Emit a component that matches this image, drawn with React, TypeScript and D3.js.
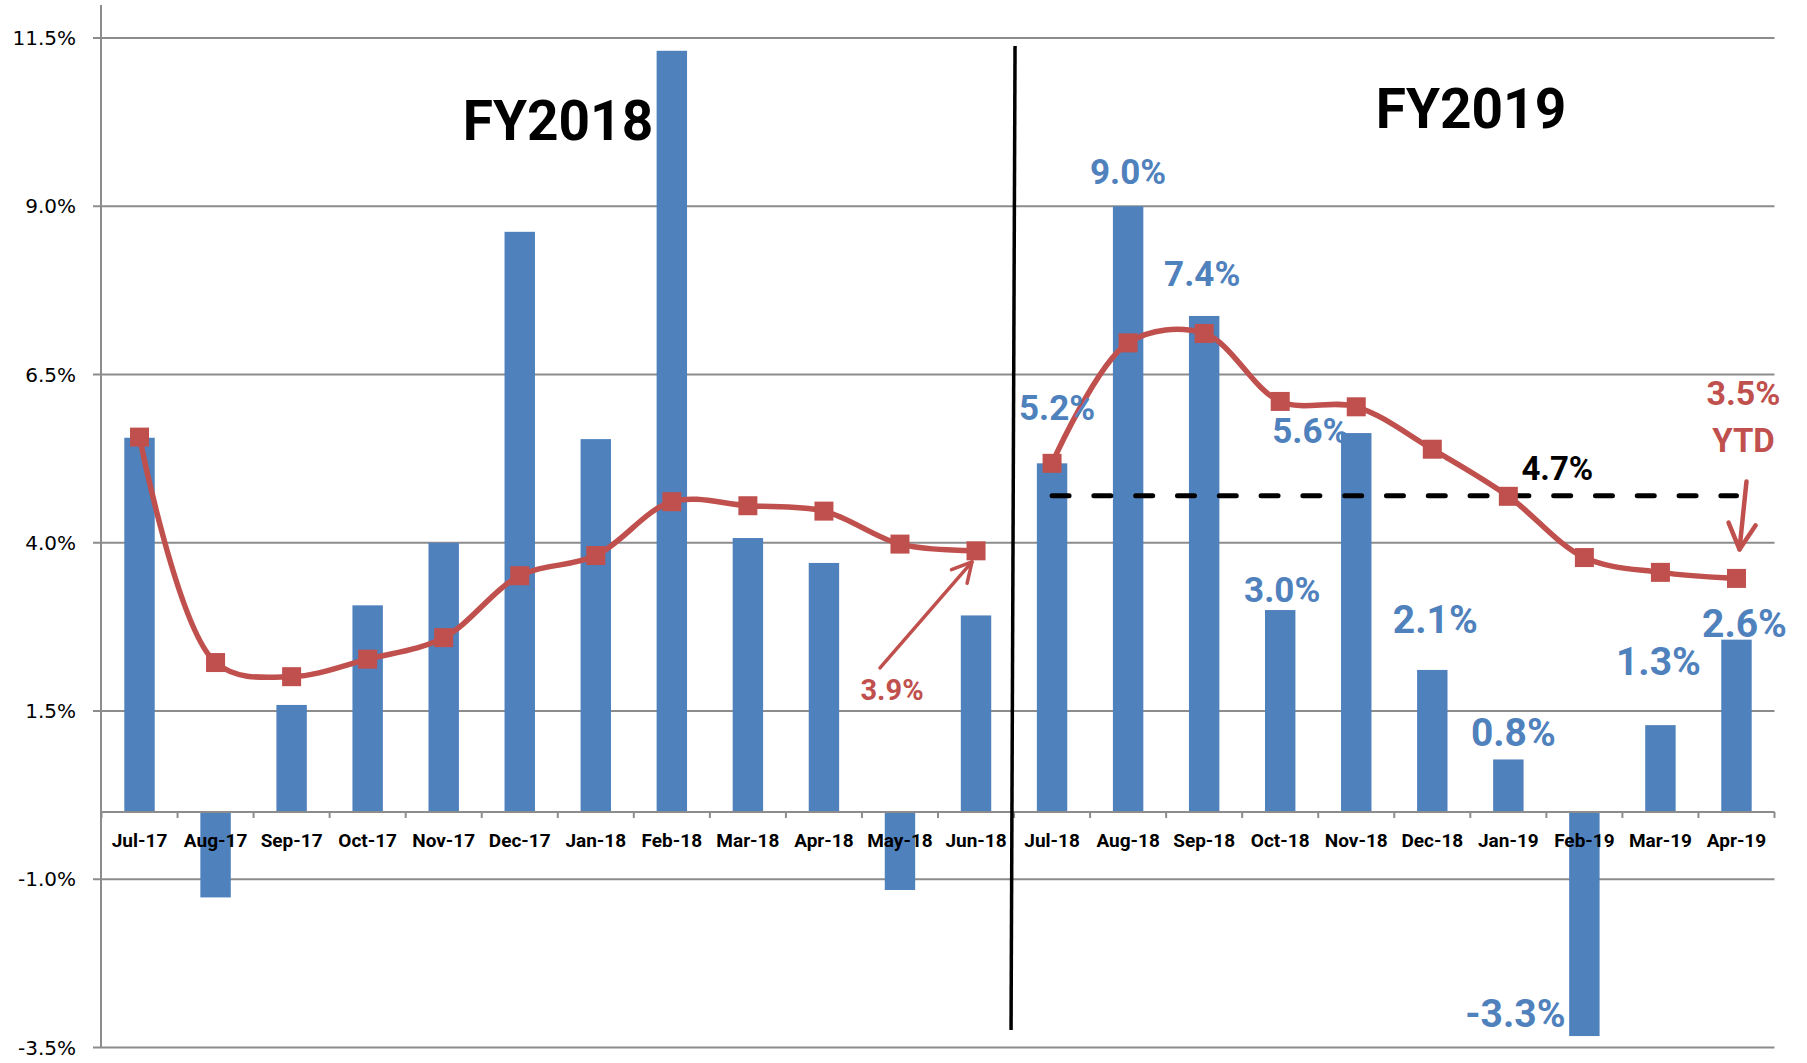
import React from 'react';
import * as d3 from 'd3';

// monthly growth (%), Jul-17 .. Apr-19
const months = [
  'Jul-17', 'Aug-17', 'Sep-17', 'Oct-17', 'Nov-17', 'Dec-17', 'Jan-18', 'Feb-18', 'Mar-18', 'Apr-18', 'May-18', 'Jun-18',
  'Jul-18', 'Aug-18', 'Sep-18', 'Oct-18', 'Nov-18', 'Dec-18', 'Jan-19', 'Feb-19', 'Mar-19', 'Apr-19',
];
const monthly = [
  5.56, -1.27, 1.59, 3.07, 4.0, 8.62, 5.54, 11.31, 4.07, 3.7, -1.16, 2.92,
  5.18, 9.0, 7.37, 3.0, 5.63, 2.11, 0.78, -3.33, 1.29, 2.56,
];
// year-to-date average, one line per fiscal year
const fy2018Months = months.slice(0, 12);
const fy2018Ytd = [5.57, 2.22, 2.01, 2.27, 2.59, 3.51, 3.81, 4.61, 4.55, 4.47, 3.98, 3.88];
const fy2019Months = months.slice(12);
const fy2019Ytd = [5.18, 6.97, 7.11, 6.1, 6.02, 5.39, 4.69, 3.78, 3.56, 3.47];
const fy2019Avg = 4.7;
const yTicks = [-3.5, -1.0, 1.5, 4.0, 6.5, 9.0, 11.5];

// label placement, offsets from the bar centre / bar end
const barLabels = [
  { m: 'Jul-18', dx: 5, dy: -43, size: 35 },
  { m: 'Aug-18', dx: 0, dy: -22, size: 35 },
  { m: 'Sep-18', dx: -2, dy: -30, size: 35 },
  { m: 'Oct-18', dx: 2, dy: -8, size: 35 },
  { m: 'Nov-18', dx: -46, dy: 10, size: 35 },
  { m: 'Dec-18', dx: 3, dy: -37, size: 39 },
  { m: 'Jan-19', dx: 5, dy: -13, size: 39 },
  { m: 'Feb-19', dx: -69, dy: -9, size: 39 },
  { m: 'Mar-19', dx: -2, dy: -50, size: 39 },
  { m: 'Apr-19', dx: 8, dy: -3, size: 39 },
];

const BLUE = '#4F81BD';
const RED = '#C0504D';
const GRID = '#8c8c8c';
const BOLD = "Roboto, 'Liberation Sans', sans-serif";

const W = 1807;
const H = 1063;

const x = d3.scaleBand<string>().domain(months).range([101.5, 1774.5]).paddingInner(0.6).paddingOuter(0.3);
const y = d3.scaleLinear().domain([-3.5, 11.5]).range([1047.5, 38]);
const cx = (m: string) => (x(m) as number) + x.bandwidth() / 2;
const edge = (i: number) => x.range()[0] + i * x.step();

const line = d3.line<[string, number]>()
  .x(d => cx(d[0]))
  .y(d => y(d[1]))
  .curve(d3.curveCatmullRom.alpha(0.5));

// plain hyphen for negatives, like the original
const fmt = (v: number) => d3.format('.1f')(v).replace('\u2212', '-') + '%';

// open arrow from (x1,y1) to (x2,y2)
function Arrow({ x1, y1, x2, y2, len, width }: any) {
  const a = Math.atan2(y1 - y2, x1 - x2);
  const s = (28 * Math.PI) / 180;
  const p1 = [x2 + len * Math.cos(a + s), y2 + len * Math.sin(a + s)];
  const p2 = [x2 + len * Math.cos(a - s), y2 + len * Math.sin(a - s)];
  return (
    <g stroke={RED} strokeWidth={width} fill="none" strokeLinecap="round" strokeLinejoin="round">
      <line x1={x1} y1={y1} x2={x2} y2={y2} />
      <polyline points={`${p1[0]},${p1[1]} ${x2},${y2} ${p2[0]},${p2[1]}`} />
    </g>
  );
}

export default function App() {
  const y0 = y(0);
  const jun18 = { x: cx('Jun-18'), y: y(fy2018Ytd[11]) };
  const apr19 = { x: cx('Apr-19'), y: y(fy2019Ytd[9]) };
  const jan19 = cx('Jan-19');
  const divider = edge(12);

  return (
    <svg width={W} height={H} style={{ position: 'absolute', left: 0, top: 0, background: '#fff' }}>
      {/* grid + y labels */}
      {yTicks.map(t => (
        <g key={t}>
          <line x1={93} x2={x.range()[1]} y1={y(t)} y2={y(t)} stroke={GRID} strokeWidth={2} />
          <text x={76} y={y(t)} dy="0.36em" textAnchor="end" fontFamily="'DejaVu Sans', Verdana, sans-serif" fontSize={20} fill="#000">
            {fmt(t)}
          </text>
        </g>
      ))}
      <line x1={101} x2={101} y1={5} y2={y(-3.5)} stroke={GRID} strokeWidth={2} />

      {/* bars */}
      {months.map((m, i) => (
        <rect
          key={m}
          x={x(m)}
          width={x.bandwidth()}
          y={y(Math.max(0, monthly[i]))}
          height={Math.abs(y(monthly[i]) - y0)}
          fill={BLUE}
        />
      ))}

      {/* category axis */}
      <line x1={x.range()[0]} x2={x.range()[1]} y1={y0} y2={y0} stroke={GRID} strokeWidth={2} />
      {d3.range(months.length + 1).map(i => (
        <line key={i} x1={edge(i)} x2={edge(i)} y1={y0} y2={y0 + 6} stroke={GRID} strokeWidth={2} />
      ))}
      {months.map(m => (
        <text key={m} x={cx(m)} y={y0 + 35} textAnchor="middle" fontFamily={BOLD} fontWeight="bold" fontSize={19} fill="#000">
          {m}
        </text>
      ))}

      {/* fiscal year divider */}
      <line x1={divider + 1} x2={divider - 3} y1={y(11.38)} y2={y(-3.24)} stroke="#000" strokeWidth={3.5} />

      {/* FY2019 average */}
      <line
        x1={cx('Jul-18')}
        x2={cx('Apr-19')}
        y1={y(fy2019Avg)}
        y2={y(fy2019Avg)}
        stroke="#000"
        strokeWidth={5}
        strokeDasharray="17 24.8"
        strokeLinecap="round"
      />

      {/* YTD lines */}
      {[
        { ms: fy2018Months, vs: fy2018Ytd },
        { ms: fy2019Months, vs: fy2019Ytd },
      ].map((s, k) => {
        const pts = s.ms.map((m, i) => [m, s.vs[i]] as [string, number]);
        return (
          <g key={k}>
            <path d={line(pts) || ''} fill="none" stroke={RED} strokeWidth={5.5} />
            {pts.map(p => (
              <rect key={p[0]} x={cx(p[0]) - 9.5} y={y(p[1]) - 9.5} width={19} height={19} fill={RED} />
            ))}
          </g>
        );
      })}

      {/* titles */}
      <text x={558} y={140} textAnchor="middle" fontFamily={BOLD} fontWeight="bold" fontSize={55} fill="#000">FY2018</text>
      <text x={1471} y={128} textAnchor="middle" fontFamily={BOLD} fontWeight="bold" fontSize={55} fill="#000">FY2019</text>

      {/* bar labels */}
      {barLabels.map(l => {
        const v = monthly[months.indexOf(l.m)];
        return (
          <text key={l.m} x={cx(l.m) + l.dx} y={y(v) + l.dy} textAnchor="middle" fontFamily={BOLD} fontWeight="bold" fontSize={l.size} fill={BLUE}>
            {fmt(v)}
          </text>
        );
      })}

      {/* average label */}
      <text x={jan19 + 49} y={y(fy2019Avg) - 16} textAnchor="middle" fontFamily={BOLD} fontWeight="bold" fontSize={33} fill="#000">
        {fmt(fy2019Avg)}
      </text>

      {/* YTD callouts */}
      <text x={jun18.x - 84} y={jun18.y + 149} textAnchor="middle" fontFamily={BOLD} fontWeight="bold" fontSize={29} fill={RED}>
        {fmt(fy2018Ytd[11])}
      </text>
      <Arrow x1={jun18.x - 96} y1={jun18.y + 117} x2={jun18.x - 4} y2={jun18.y + 11} len={22} width={3.5} />

      <text x={apr19.x + 7} y={apr19.y - 173} textAnchor="middle" fontFamily={BOLD} fontWeight="bold" fontSize={34} fill={RED}>
        {fmt(fy2019Ytd[9])}
      </text>
      <text x={apr19.x + 7} y={apr19.y - 126} textAnchor="middle" fontFamily={BOLD} fontWeight="bold" fontSize={33} fill={RED}>
        YTD
      </text>
      <Arrow x1={apr19.x + 10} y1={apr19.y - 97} x2={apr19.x + 3} y2={apr19.y - 29} len={29} width={4.5} />
    </svg>
  );
}
